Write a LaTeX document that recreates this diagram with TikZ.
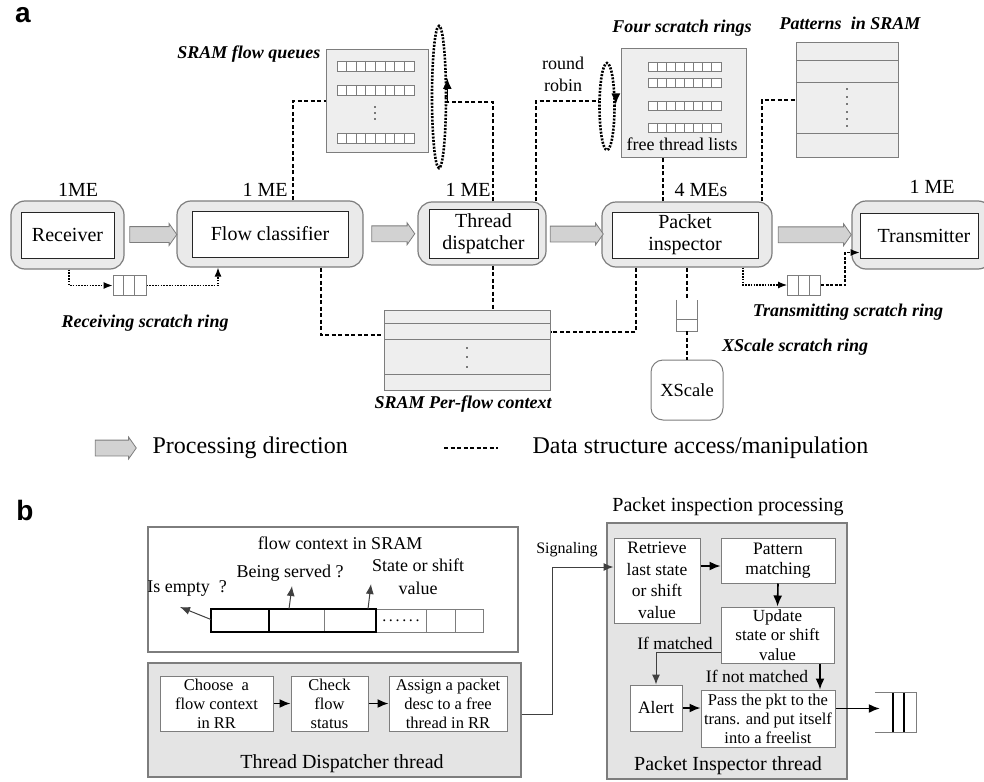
\documentclass[tikz,border=0pt]{standalone}
\usepackage{fontspec}
\setmainfont{Liberation Serif}
\newfontfamily\panelfont{Liberation Sans}
\usepackage{tikz}
\usetikzlibrary{arrows.meta,positioning,calc,shapes.geometric,shapes.arrows}
\definecolor{megray}{RGB}{234,234,234}
\definecolor{storegray}{RGB}{238,238,238}
\definecolor{panelgray}{RGB}{228,228,228}
\definecolor{edgegray}{RGB}{125,125,125}
\definecolor{flowgray}{RGB}{210,210,210}

\begin{document}
\begin{tikzpicture}[x=1pt, y=-1pt,
  lbl/.style={font=\fontsize{20}{22}\selectfont},
  bilbl/.style={font=\fontsize{18}{20}\selectfont\bfseries\itshape},
  tag/.style={font=\panelfont\bfseries\fontsize{28}{30}\selectfont},
  mebox/.style={rectangle, draw=edgegray, fill=megray, rounded corners=14pt, line width=1.2pt},
  inbox/.style={rectangle, draw=black!85, fill=white, line width=1pt, inner sep=0pt,
                align=center, font=\fontsize{20}{22}\selectfont},
  store/.style={rectangle, draw=edgegray, fill=storegray, line width=1pt, inner sep=0pt},
  flowarrow/.style={single arrow, draw=edgegray, fill=flowgray, line width=0.8pt,
                    inner xsep=0pt, inner ysep=7.5pt, single arrow head extend=3pt,
                    single arrow tip angle=110, minimum width=0pt},
  ringq/.style={rectangle, draw=edgegray, fill=white, line width=1pt,
                minimum width=33pt, minimum height=20pt, inner sep=0pt,
                path picture={\draw[edgegray, line width=1pt]
                  ($(path picture bounding box.north west)!0.33!(path picture bounding box.north east)$) --
                  ($(path picture bounding box.south west)!0.33!(path picture bounding box.south east)$)
                  ($(path picture bounding box.north west)!0.66!(path picture bounding box.north east)$) --
                  ($(path picture bounding box.south west)!0.66!(path picture bounding box.south east)$);}},
  access/.style={line width=2pt, dash pattern=on 4pt off 2.5pt},
  ringlink/.style={line width=1.2pt, dash pattern=on 1.6pt off 1.2pt, -{Latex[length=9pt,width=7pt]}},
  loopdot/.style={ellipse, draw, line width=2.6pt, dash pattern=on 2pt off 1.4pt, inner sep=0pt},
  looptip/.style={line width=1.6pt, -{Latex[length=11pt,width=9pt]}},
  panel/.style={rectangle, draw=edgegray, fill=panelgray, line width=1.2pt},
  stepbox/.style={rectangle, draw=edgegray, fill=white, line width=1pt, inner sep=0pt,
                  align=center, font=\fontsize{16.5}{19}\selectfont},
  cell/.style={rectangle, draw=edgegray, line width=1pt, minimum height=23pt,
               inner sep=0pt, outer sep=0pt},
  flowtip/.style={line width=1.6pt, -{Latex[length=11pt,width=9pt]}},
  thintip/.style={line width=1pt, draw=black!75, -{Latex[length=10pt,width=8pt]}}
]
\useasboundingbox (0,0) rectangle (984,781);

% --- Part a: microengine pipeline ---
\node[tag] (taga) at (23,15) {a};

\node[mebox, minimum width=113pt, minimum height=68pt] (recvme) at (67.5,235) {};
\node[inbox, minimum width=93pt, minimum height=46pt] (recv) at (recvme.center) {Receiver};
\node[mebox, minimum width=186pt, minimum height=66pt] (flowme) at (270,234) {};
\node[inbox, minimum width=156pt, minimum height=46pt] (flow) at (flowme.center) {Flow classifier};
\node[mebox, minimum width=128pt, minimum height=63pt] (tdme) at (482,233.5) {};
\node[inbox, minimum width=109pt, minimum height=49pt] (td) at (483.5,233.5) {Thread\\dispatcher};
\node[mebox, minimum width=170pt, minimum height=65pt] (pime) at (687,234.5) {};
\node[inbox, minimum width=146pt, minimum height=46pt] (pi) at (685,235) {Packet\\inspector};
\node[mebox, minimum width=140pt, minimum height=68pt] (transme) at (922,235) {};
\node[inbox, minimum width=118pt, minimum height=45pt] (trans) at (919,235.5) {\hspace*{10pt}Transmitter};

\node[lbl] (recvlbl) at (78,190) {1ME};
\node[lbl] (flowlbl) at (265,190) {1 ME};
\node[lbl] (tdlbl) at (468,190) {1 ME};
\node[lbl] (pilbl) at (701,190) {4 MEs};
\node[lbl] (translbl) at (932,187) {1 ME};

\node[flowarrow, minimum height=47pt] (fa1) at ($(recvme.east)!0.5!(flowme.west)$) {};
\node[flowarrow, minimum height=43pt] (fa2) at ($(flowme.east)!0.5!(tdme.west)$) {};
\node[flowarrow, minimum height=53pt] (fa3) at ($(tdme.east)!0.5!(pime.west)$) {};
\node[flowarrow, minimum height=73pt] (fa4) at ($(pime.east)!0.5!(transme.west)$) {};

% --- Data structures ---
\node[store, minimum width=102pt, minimum height=102pt] (queues) at (377,101) {};
\foreach \ry in {66,90,138} {
  \draw[edgegray, fill=white, line width=0.8pt] (337,{\ry-5}) rectangle (414,{\ry+5});
  \foreach \cx in {1,...,7}
    \draw[edgegray, line width=0.8pt] ({337+\cx*9.625},{\ry-5}) -- ({337+\cx*9.625},{\ry+5});
}
\foreach \dy in {107,113,119} \fill (375,\dy) circle (0.9pt);
\node[bilbl, anchor=east] (queueslbl) at (324,54) {SRAM flow queues};

\node[store, minimum width=125pt, minimum height=108pt] (rings) at (683.5,103) {};
\foreach \ry in {67,83,106,128} {
  \draw[edgegray, fill=white, line width=0.8pt] (648,{\ry-4.5}) rectangle (721,{\ry+4.5});
  \foreach \cx in {1,...,7}
    \draw[edgegray, line width=0.8pt] ({648+\cx*9.125},{\ry-4.5}) -- ({648+\cx*9.125},{\ry+4.5});
}
\node[font=\fontsize{18}{20}\selectfont] (freelbl) at (682,144) {free thread lists};
\node[bilbl] (ringslbl) at (682,28) {Four scratch rings};

\node[store, minimum width=102pt, minimum height=114pt] (patterns) at (847,100) {};
\foreach \ly in {61,83,133} \draw[edgegray, line width=1pt] (796,\ly) -- (898,\ly);
\foreach \dy in {89,97,104,112,119,126} \fill (847,\dy) circle (0.8pt);
\node[bilbl] (patternslbl) at (850,23) {Patterns\ \ in SRAM};

\node[store, minimum width=166pt, minimum height=80pt] (perflow) at (467,350) {};
\foreach \ly in {323,339,374} \draw[edgegray, line width=1pt] (384,\ly) -- (550,\ly);
\foreach \dy in {348,357,367} \fill (467,\dy) circle (0.9pt);
\node[bilbl] (perflowlbl) at (463,404) {SRAM Per-flow context};

\node[loopdot, minimum width=14pt, minimum height=142pt] (qloop) at (439,97) {};
\node[loopdot, minimum width=15pt, minimum height=87pt] (rrloop) at (607,106.5) {};
\node[align=center, font=\fontsize{18}{22}\selectfont] (rrlbl) at (563,74) {round\\robin};

\node[ringq] (rxring) at (129.5,285.5) {};
\node[ringq] (txring) at (804,285) {};
\node[bilbl] (rxlbl) at (145,323) {Receiving scratch ring};
\node[bilbl] (txlbl) at (848,312) {Transmitting scratch ring};

\node[minimum width=20pt, minimum height=31pt, inner sep=0pt] (xsring) at (687,315.5) {};
\draw[edgegray, line width=1pt] (xsring.north west) -- (xsring.south west)
  -- (xsring.south east) -- (xsring.north east);
\draw[edgegray, line width=1pt] ([yshift=-3.5pt]xsring.west) -- ([yshift=-3.5pt]xsring.east);
\node[rectangle, draw=edgegray, rounded corners=12pt, line width=1pt, minimum width=72pt,
      minimum height=60pt, font=\fontsize{18.5}{20}\selectfont] (xscale) at (687,390) {XScale};
\node[bilbl] (xslbl) at (795,347) {XScale scratch ring};

% --- Access lines ---
\draw[access] ([xshift=23pt]flowme.north) |- (queues.west);
\draw[access] ([xshift=11pt]tdme.north) |- ([yshift=-5pt]qloop.east);
\draw[looptip] ([yshift=-5pt]qloop.east) -- ([yshift=19pt]qloop.east);
\draw[access] ([xshift=54pt]tdme.north) |- ([yshift=5.5pt]rrloop.west);
\draw[looptip] ([yshift=12pt]rrloop.east) -- ([yshift=2pt]rrloop.east);
\draw[access] ([xshift=-24pt]pime.north) -- ([xshift=-24pt]pime.north |- rings.south);
\draw[access] ([xshift=75pt]pime.north) |- (patterns.west);
\draw[access] ([xshift=51pt]flowme.south) |- ([yshift=15pt]perflow.west);
\draw[access] ([xshift=11pt]tdme.south) -- ([xshift=11pt]tdme.south |- perflow.north);
\draw[access] ([xshift=-51pt]pime.south) |- ([yshift=18pt]perflow.east);
\draw[access] (pime.south) -- (xsring.north);
\draw[access] (xsring.south) -- (xscale.north);

\draw[ringlink] ([xshift=1.5pt]recvme.south) |- (rxring.west);
\draw[ringlink] (rxring.east) -| ([xshift=-52pt]flowme.south);
\draw[ringlink] ([xshift=56pt]pime.south) |- (txring.west);
\draw[line width=1.2pt, dash pattern=on 3pt off 1.5pt, -{Latex[length=9pt,width=7pt]}]
  (txring.east) -- ++(24,0) |- ([yshift=-17pt]trans.west);

% --- Legend ---
\node[flowarrow, minimum height=41pt] (lgarrow) at (113,448) {};
\node[anchor=west, font=\fontsize{24}{26}\selectfont] (lgproc) at (149,448) {Processing direction};
\coordinate (lgdashA) at (444,448);
\coordinate (lgdashB) at (498,448);
\draw[access] (lgdashA) -- (lgdashB);
\node[anchor=west, font=\fontsize{24}{26}\selectfont] (lgaccess) at (529,448) {Data structure access/manipulation};

% --- Part b: threads ---
\node[tag] (tagb) at (25,510) {b};

\node[rectangle, draw=edgegray, fill=white, line width=1.2pt, minimum width=370pt,
      minimum height=125pt] (ctxbox) at (333,589.5) {};
\node[font=\fontsize{18}{20}\selectfont] (ctxlbl) at (340,543) {flow context in SRAM};
\node[cell, minimum width=58pt] (cempty) at (240,620.5) {};
\node[cell, right=0pt of cempty, minimum width=55pt] (cserved) {};
\node[cell, right=0pt of cserved, minimum width=52pt] (cstate) {};
\node[cell, right=0pt of cstate, minimum width=50pt, font=\fontsize{16}{18}\selectfont] (cmore) {.\,.\,.\,.\,.\,.};
\node[cell, right=0pt of cmore, minimum width=29pt] (cfive) {};
\node[cell, right=0pt of cfive, minimum width=28pt] (csix) {};
\draw[line width=2.2pt] (cempty.north west) rectangle (cstate.south east);
\draw[line width=2.2pt] (cempty.north east) -- (cempty.south east);

\node[font=\fontsize{18}{20}\selectfont] (emptylbl) at (187,588) {Is empty\ \ ?};
\node[font=\fontsize{18}{20}\selectfont] (servedlbl) at (290,573) {Being served ?};
\node[align=center, font=\fontsize{18}{23}\selectfont] (statelbl) at (418,577) {State or shift\\value};
\coordinate (emptytip) at (180,607);
\coordinate (servedtip) at (292,586);
\coordinate (statetip) at (371,584);
\draw[thintip] ([yshift=1pt]cempty.west) -- (emptytip);
\draw[thintip] ([xshift=-7.5pt]cserved.north) -- (servedtip);
\draw[thintip] ([xshift=-8pt]cstate.north east) -- (statetip);

\node[panel, minimum width=373pt, minimum height=114pt] (tdbox) at (334.5,720) {};
\node[font=\fontsize{20}{22}\selectfont] (tdboxlbl) at (342,764) {Thread Dispatcher thread};
\node[stepbox, minimum width=113pt, minimum height=55pt] (choose) at (216.5,703.5) {Choose\ \ a\\flow context\\in RR};
\node[stepbox, right=17pt of choose, minimum width=77pt, minimum height=55pt] (check) {Check\\flow\\status};
\node[stepbox, right=20pt of check, minimum width=118pt, minimum height=55pt] (assign) {Assign a packet\\desc to a free\\thread in RR};
\draw[flowtip] (choose) -- (check);
\draw[flowtip] (check) -- (assign);

\node[panel, minimum width=240pt, minimum height=256pt] (pibox) at (727,651) {};
\node[font=\fontsize{20}{22}\selectfont] (piproclbl) at (728,507) {Packet inspection processing};
\node[font=\fontsize{20}{22}\selectfont] (piboxlbl) at (728,766) {Packet Inspector thread};
\node[stepbox, minimum width=86pt, minimum height=85pt, font=\fontsize{17.5}{21.5}\selectfont] (retrieve) at (657,580.5) {Retrieve\\last state\\or shift\\value};
\node[stepbox, minimum width=114pt, minimum height=45pt, font=\fontsize{17.5}{20}\selectfont] (pattern) at (778,560.5) {Pattern\\matching};
\node[stepbox, minimum width=113pt, minimum height=56pt, font=\fontsize{17}{19.5}\selectfont] (update) at (777.5,635) {Update\\state or shift\\value};
\node[stepbox, minimum width=52pt, minimum height=46pt, font=\fontsize{17.5}{20}\selectfont] (alert) at (656,708) {Alert};
\node[stepbox, minimum width=134pt, minimum height=57pt] (pass) at (768,718.5) {Pass the pkt to the\\trans. and put itself\\into a freelist};
\node[font=\fontsize{17.5}{20}\selectfont] (matchlbl) at (675,643) {If matched};
\node[font=\fontsize{17.5}{20}\selectfont] (nomatchlbl) at (757,676) {If not matched};

\draw[flowtip] ([yshift=14.5pt]retrieve.east) -- ([yshift=14.5pt]retrieve.east -| pattern.west);
\draw[flowtip] (pattern.south) -- (update.north);
\draw[thintip] ([yshift=-17pt]update.west) -| (alert.north);
\draw[flowtip] ([xshift=42.5pt]update.south) -- ([xshift=42.5pt]update.south |- pass.north);
\draw[flowtip] (alert.east) -- (alert.east -| pass.west);

\node[minimum width=41pt, minimum height=39pt, inner sep=0pt] (outring) at (895.5,712.5) {};
\draw[edgegray, line width=1pt] (outring.north west) -- (outring.north east)
  -- (outring.south east) -- (outring.south west);
\draw[line width=2.5pt] ([xshift=-2.5pt]outring.north) -- ([xshift=-2.5pt]outring.south);
\draw[line width=2.5pt] ([xshift=8.5pt]outring.north) -- ([xshift=8.5pt]outring.south);
\draw[flowtip] ([yshift=10pt]pass.east) -- ([yshift=10pt, xshift=5pt]pass.east -| outring.west);

\draw[thintip] ([yshift=6pt]tdbox.east) -- ++(31,0) |- ([yshift=13.5pt]retrieve.west);
\node[font=\fontsize{16}{18}\selectfont] (siglbl) at (567,550) {Signaling};

\end{tikzpicture}
\end{document}
